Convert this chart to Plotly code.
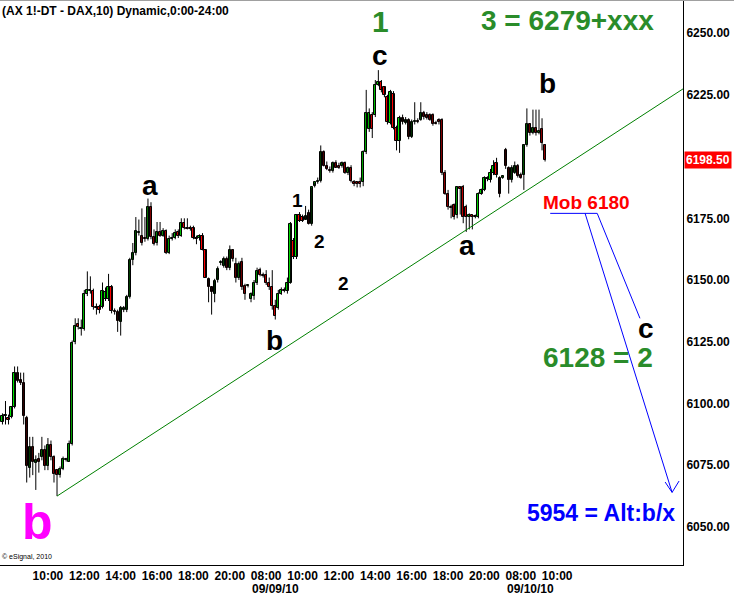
import plotly.graph_objects as go

FONT = "Liberation Sans, Arial, sans-serif"

# ---------------- data (10-minute DAX future bars) ----------------
bar_index = list(range(180))

open_ = [
    6092.5, 6095, 6094, 6094.5, 6098.5, 6112.5, 6109.5, 6108.5, 6094, 6074,
    6082.5, 6076, 6077.5, 6078.5, 6081, 6074.5, 6083, 6078.5, 6073, 6071,
    6073.5, 6077, 6076.5, 6083.5, 6125, 6132, 6130, 6130, 6144.5, 6145.5,
    6145.5, 6139, 6139, 6139, 6142.5, 6142.5, 6147, 6137.5, 6137, 6133,
    6138, 6138, 6143, 6158, 6161, 6169, 6168, 6167, 6166.5, 6179.5,
    6167.5, 6165, 6169.5, 6168, 6170, 6161, 6166.5, 6167, 6169.5, 6168,
    6173, 6171, 6171, 6171, 6167, 6167, 6168, 6162, 6150.5, 6147,
    6144.5, 6150, 6157, 6155.5, 6158.5, 6155, 6162, 6156.5, 6151, 6157.5,
    6147.5, 6147.5, 6142.5, 6143.5, 6149, 6154, 6152, 6152, 6149, 6147,
    6139.5, 6138.5, 6144.5, 6146, 6145.5, 6149, 6166, 6159.5, 6176.5, 6175.5,
    6174.5, 6177, 6172.5, 6188, 6189.5, 6190, 6202, 6196, 6194.5, 6194,
    6197.5, 6196, 6196, 6197.5, 6193.5, 6195.5, 6189.5, 6189.5, 6189.5, 6189.5,
    6202, 6211, 6217, 6217, 6229, 6230, 6228, 6224, 6213.5, 6225.5,
    6211.5, 6206.5, 6215.5, 6213.5, 6215, 6208, 6214, 6214.5, 6215, 6217.5,
    6217, 6217, 6217, 6213.5, 6215, 6215, 6193.5, 6185, 6179.5, 6180.5,
    6176.5, 6187.5, 6187.5, 6179.5, 6175.5, 6176.5, 6176, 6175.5, 6185, 6186.5,
    6191, 6190.5, 6193.5, 6197.5, 6191.5, 6191.5, 6202.5, 6195.5, 6190.5, 6193.5,
    6196, 6192.5, 6192.5, 6204.5, 6213, 6209.5, 6211.5, 6209.5, 6211, 6204.5,
]

high = [
    6096, 6101, 6095.5, 6099, 6115, 6115, 6112.5, 6112.5, 6095, 6086.5,
    6086.5, 6079, 6080, 6086.5, 6083, 6086, 6085, 6079, 6073.5, 6074.5,
    6078.5, 6078, 6085, 6125.5, 6134.5, 6134.5, 6134, 6146, 6153.5, 6151.5,
    6146.5, 6140.5, 6140, 6149, 6147, 6152.5, 6148, 6138.5, 6138, 6139.5,
    6139.5, 6144, 6159, 6165, 6175.5, 6174.5, 6179, 6175.5, 6183, 6181.5,
    6170.5, 6173.5, 6173.5, 6171, 6170.5, 6168, 6169, 6170.5, 6170.5, 6175,
    6175, 6175, 6172, 6172, 6168, 6168.5, 6169, 6162.5, 6151, 6147.5,
    6150.5, 6155.5, 6158, 6159.5, 6159.5, 6164, 6162.5, 6159, 6157.5, 6159,
    6148.5, 6148, 6145, 6150, 6155, 6155, 6153, 6154, 6151, 6154,
    6142, 6146, 6147, 6147, 6151, 6173.5, 6167, 6176.5, 6177.5, 6176.5,
    6180, 6178.5, 6187.5, 6189.5, 6191.5, 6204.5, 6202.5, 6198, 6196, 6198,
    6198.5, 6197.5, 6198, 6198, 6196, 6196.5, 6190.5, 6190, 6191.5, 6202.5,
    6227, 6219.5, 6218, 6231, 6235, 6231, 6228.5, 6225, 6227, 6226.5,
    6212.5, 6216.5, 6217, 6216, 6215.5, 6215, 6222, 6215.5, 6222, 6218.5,
    6218, 6217.5, 6217.5, 6214.5, 6215.5, 6215.5, 6194.5, 6186.5, 6180.5, 6181,
    6188, 6188, 6188.5, 6180.5, 6177, 6176.5, 6176.5, 6185.5, 6187, 6192,
    6192, 6195, 6198.5, 6199.5, 6192, 6192, 6203.5, 6196, 6196.5, 6198,
    6197, 6193.5, 6205, 6219.5, 6213.5, 6219, 6219, 6219, 6215.5, 6205,
]

low = [
    6091.5, 6091.5, 6091.5, 6094, 6098, 6108.5, 6107.5, 6091.5, 6068, 6070,
    6071, 6065, 6072, 6077, 6073, 6073, 6077, 6068, 6062.5, 6070,
    6073, 6076.5, 6076.5, 6083, 6124, 6130, 6127.5, 6129.5, 6143.5, 6144.5,
    6138, 6136, 6136.5, 6138.5, 6141.5, 6141.5, 6136.5, 6136, 6129, 6127.5,
    6137, 6137, 6142.5, 6156, 6160, 6168, 6164, 6165.5, 6166, 6166.5,
    6164, 6164, 6167.5, 6167.5, 6160.5, 6160.5, 6166, 6166.5, 6167, 6167.5,
    6170.5, 6170.5, 6170, 6166.5, 6164.5, 6166, 6162, 6151, 6141, 6136,
    6141, 6149, 6156, 6155, 6154, 6154, 6157.5, 6149, 6150, 6146,
    6142, 6147, 6141, 6142, 6148, 6151.5, 6151, 6148, 6146, 6138,
    6134, 6138, 6144, 6145, 6144.5, 6148.5, 6158.5, 6158.5, 6173.5, 6173.5,
    6174.5, 6172.5, 6172, 6187.5, 6189, 6189.5, 6196, 6194.5, 6193.5, 6193.5,
    6195.5, 6195, 6195.5, 6193, 6192.5, 6189.5, 6188, 6187.5, 6187.5, 6188,
    6201, 6210, 6207.5, 6216, 6228.5, 6226, 6224, 6213, 6213, 6211,
    6202.5, 6201.5, 6213, 6213, 6207, 6207.5, 6213, 6213.5, 6214.5, 6215,
    6215, 6214.5, 6212.5, 6213, 6213, 6192.5, 6184.5, 6178.5, 6175, 6174.5,
    6175, 6176.5, 6173, 6169.5, 6170.5, 6170.5, 6175, 6175, 6184.5, 6186,
    6190, 6189.5, 6192.5, 6191.5, 6183.5, 6191, 6195, 6185, 6189.5, 6193,
    6191.5, 6191, 6186.5, 6204, 6208.5, 6209, 6208.5, 6209, 6202.5, 6198,
]

close = [
    6095, 6095, 6093.5, 6098.5, 6112.5, 6109, 6108.5, 6095, 6074.5, 6082.5,
    6076.5, 6077, 6076.5, 6081, 6074.5, 6083, 6078.5, 6071.5, 6071, 6073.5,
    6077.5, 6077.5, 6083.5, 6124.5, 6131.5, 6131, 6130.5, 6144.5, 6146, 6145.5,
    6139, 6138.5, 6138, 6145.5, 6145, 6147, 6137.5, 6137, 6133.5, 6138.5,
    6138.5, 6143, 6158, 6161, 6170, 6169.5, 6165, 6166.5, 6179.5, 6167.5,
    6164.5, 6169.5, 6168, 6170, 6161, 6166.5, 6167, 6169, 6168, 6173,
    6171, 6170.5, 6170.5, 6167, 6166.5, 6168, 6162, 6151, 6147, 6145,
    6149.5, 6154.5, 6157.5, 6158.5, 6155, 6162, 6158.5, 6151, 6156.5, 6147,
    6144.5, 6147.5, 6144.5, 6149, 6153.5, 6152, 6151.5, 6149, 6147, 6139.5,
    6135.5, 6144.5, 6146, 6145.5, 6149, 6172.5, 6159.5, 6176.5, 6174, 6174,
    6176, 6172.5, 6187.5, 6189.5, 6190, 6202, 6196, 6195, 6194, 6197.5,
    6195.5, 6195.5, 6197.5, 6193.5, 6195.5, 6190, 6189, 6189, 6189, 6202,
    6217.5, 6217.5, 6211, 6229, 6230, 6227, 6225, 6214, 6226, 6211.5,
    6206.5, 6215.5, 6214, 6215, 6208, 6214, 6214.5, 6214, 6217.5, 6216,
    6215.5, 6215, 6213, 6213, 6214, 6193.5, 6185, 6179.5, 6179, 6175.5,
    6187.5, 6187, 6175.5, 6175.5, 6176.5, 6175.5, 6175.5, 6185, 6186.5, 6191.5,
    6191.5, 6193.5, 6196, 6192.5, 6185, 6191.5, 6196, 6190.5, 6195.5, 6196,
    6192, 6191.5, 6204.5, 6213, 6209.5, 6211.5, 6209.5, 6210.5, 6205.5, 6198.5,
]

tick_index = [15, 27, 39, 51, 63, 75, 87, 99, 111, 123, 135, 147, 159, 171, 183]
tick_text = ["10:00", "12:00", "14:00", "16:00", "18:00", "20:00", "08:00",
             "10:00", "12:00", "14:00", "16:00", "18:00", "20:00", "08:00", "10:00"]
date_index = [87, 171]
date_text = ["09/09/10", "09/10/10"]

price_ticks = [6050, 6075, 6100, 6125, 6150, 6175, 6200, 6225, 6250]
last_price = 6198.5

trend_x = [18, 224.5]
trend_y = [6062.5, 6227.4]

# projection drawing (Mob level and target arrows)
mob_level = 6177
target_c = 6134.5
target_alt = 6064

# ---------------- figure ----------------
GREEN_TXT = "#2a8c2a"
UP = "#00e600"
DOWN = "#ff0000"

# wicks: one segment per bar (gaps separate them)
wick_x, wick_y = [], []
for i, h, l in zip(bar_index, high, low):
    wick_x += [i, i, None]
    wick_y += [l, h, None]

body_base = [min(o, c) for o, c in zip(open_, close)]
body_len = [max(abs(c - o), 0.45) for o, c in zip(open_, close)]
body_col = [UP if c >= o else DOWN for o, c in zip(open_, close)]

fig = go.Figure()
fig.add_trace(go.Scatter(
    x=wick_x, y=wick_y, mode="lines", line=dict(color="black", width=1),
    hoverinfo="skip", showlegend=False,
))
fig.add_trace(go.Bar(
    x=bar_index, y=body_len, base=body_base, width=0.72,
    marker=dict(color=body_col, line=dict(color="black", width=1)),
    hoverinfo="skip", showlegend=False,
))
fig.add_trace(go.Scatter(
    x=trend_x, y=trend_y, mode="lines",
    line=dict(color="#008000", width=1), hoverinfo="skip", showlegend=False,
))

blue = dict(color="#0000ff", width=1)
shapes = [
    dict(type="line", xref="x", yref="y", x0=180.7, x1=196.2, y0=mob_level, y1=mob_level, line=blue),
    dict(type="line", xref="x", yref="y", x0=192.2, x1=220.9, y0=mob_level, y1=target_alt, line=blue),
    dict(type="line", xref="x", yref="y", x0=196.2, x1=210.3, y0=mob_level, y1=target_c, line=blue),
    dict(type="line", xref="x", yref="y", x0=218.6, x1=220.9, y0=6068.2, y1=target_alt, line=blue),
    dict(type="line", xref="x", yref="y", x0=223.2, x1=220.9, y0=6068.6, y1=target_alt, line=blue),
    dict(type="line", xref="paper", yref="paper", x0=0, x1=1.08, y0=1, y1=1,
         line=dict(color="#a0a0a0", width=2)),
]

labels = [
    # text, x(bar), y(price), color, size
    ("1", 124.7, 6254.5, GREEN_TXT, 30),
    ("c", 124.7, 6241.1, "black", 28),
    ("3 = 6279+xxx", 186.3, 6255.3, GREEN_TXT, 28),
    ("b", 179.7, 6229.4, "black", 28),
    ("a", 48.6, 6188.1, "black", 28),
    ("1", 97.3, 6182.4, "black", 19),
    ("2", 104.6, 6165.8, "black", 19),
    ("2", 112.5, 6148.4, "black", 19),
    ("b", 89.8, 6125.7, "black", 28),
    ("a", 153.3, 6163.8, "black", 28),
    ("Mob 6180", 192.5, 6181.2, "#ff0000", 19),
    ("c", 212.3, 6130.2, "black", 28),
    ("6128 = 2", 196.5, 6118.8, GREEN_TXT, 28),
    ("5954 = Alt:b/x", 197.6, 6055.6, "#0000ff", 23),
    ("b", 11.7, 6052.0, "#ff00ff", 50),
]

annotations = []
for t, x, y, c, s in labels:
    annotations.append(dict(
        text=t, x=x, y=y, xref="x", yref="y", showarrow=False,
        xanchor="center", yanchor="middle",
        font=dict(family=FONT, size=s, color=c, weight="bold"),
    ))

for xi, dt in zip(date_index, date_text):
    annotations.append(dict(
        text=dt, x=xi, y=0, xref="x", yref="paper", showarrow=False,
        xanchor="left", yanchor="top", xshift=-16, yshift=-15,
        font=dict(family=FONT, size=12, color="black", weight="bold"),
    ))

annotations.append(dict(
    text="(AX 1!-DT - DAX,10) Dynamic,0:00-24:00", x=0, y=1, xref="paper", yref="paper",
    showarrow=False, xanchor="left", yanchor="top", yshift=-2,
    font=dict(family=FONT, size=12, color="black", weight="bold"),
))
annotations.append(dict(
    text="© eSignal, 2010", x=0, y=0, xref="paper", yref="paper",
    showarrow=False, xanchor="left", yanchor="bottom", yshift=2,
    font=dict(family=FONT, size=7, color="black"),
))
annotations.append(dict(
    text=f"{last_price:.2f}", x=1, y=last_price, xref="paper", yref="y",
    showarrow=False, xanchor="left", yanchor="middle", xshift=1,
    bgcolor="#ff0000", borderpad=1,
    font=dict(family=FONT, size=12, color="white", weight="bold"),
))

fig.update_layout(
    width=734, height=599,
    margin=dict(l=0, r=51, t=0, b=34),
    paper_bgcolor="white", plot_bgcolor="white",
    showlegend=False, bargap=0,
    xaxis=dict(
        range=[-0.81, 224.5],
        showgrid=False, zeroline=False, showline=True, linecolor="black", linewidth=1,
        ticks="", tickvals=tick_index, ticktext=tick_text, tickangle=0,
        tickfont=dict(family=FONT, size=12, color="black", weight="bold"),
    ),
    yaxis=dict(
        range=[6034.6, 6263.4], side="right",
        showgrid=False, zeroline=False, showline=True, linecolor="black", linewidth=1,
        ticks="", tickvals=price_ticks, ticktext=[f"{p:.2f}" for p in price_ticks],
        tickfont=dict(family=FONT, size=12, color="black", weight="bold"),
    ),
    shapes=shapes,
    annotations=annotations,
)

fig.write_html(
    "out.html",
    config={"displayModeBar": False},
    post_script="document.body.style.margin='0';document.body.style.padding='0';",
)
